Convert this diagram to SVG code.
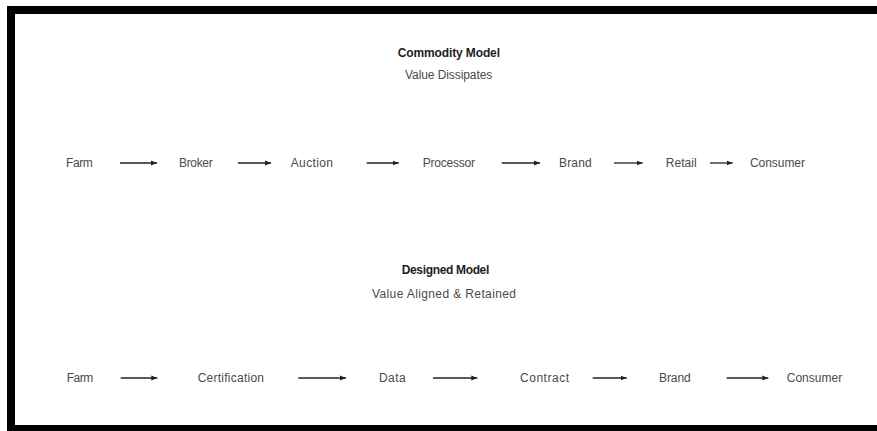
<svg xmlns="http://www.w3.org/2000/svg" width="877" height="431" viewBox="0 0 877 431">
  <style>
    .node { font-family: "Liberation Sans", Arial, sans-serif; font-size: 12px; fill: #4a4a4a; }
    .title { font-family: "Liberation Sans", Arial, sans-serif; font-size: 12px; font-weight: bold; fill: #1e1e1e; }
    .sub { font-family: "Liberation Sans", Arial, sans-serif; font-size: 12px; fill: #4a4a4a; }
    .arrow { stroke: #222; stroke-width: 1.3; fill: none; marker-end: url(#head); }
  </style>
  <defs>
    <marker id="head" markerUnits="userSpaceOnUse" markerWidth="7" markerHeight="6" refX="6" refY="3" orient="auto">
      <path d="M0,0.6 L6,3 L0,5.4 Z" fill="#222"/>
    </marker>
  </defs>

  <rect width="877" height="431" fill="#ffffff"/>
  <!-- frame -->
  <rect x="11" y="10" width="880" height="419" fill="none" stroke="#000" stroke-width="8"/>

  <!-- section headings -->
  <g id="commodity-heading">
    <text class="title" x="397.7" y="57" textLength="102.3">Commodity Model</text>
    <text class="sub" x="405" y="79" textLength="87.3">Value Dissipates</text>
  </g>
  <g id="designed-heading">
    <text class="title" x="401.7" y="274" textLength="87.6">Designed Model</text>
    <text class="sub" x="372" y="298" textLength="144">Value Aligned &amp; Retained</text>
  </g>

  <!-- commodity chain -->
  <g id="c-farm"><text class="node" x="66" y="167" textLength="26.7">Farm</text></g>
  <g id="c-broker"><text class="node" x="179" y="167" textLength="33.7">Broker</text></g>
  <g id="c-auction"><text class="node" x="290.7" y="167" textLength="42.3">Auction</text></g>
  <g id="c-processor"><text class="node" x="422.7" y="167" textLength="52.3">Processor</text></g>
  <g id="c-brand"><text class="node" x="559" y="167" textLength="32.7">Brand</text></g>
  <g id="c-retail"><text class="node" x="665.7" y="167" textLength="31">Retail</text></g>
  <g id="c-consumer"><text class="node" x="750" y="167" textLength="55">Consumer</text></g>

  <!-- designed chain -->
  <g id="d-farm"><text class="node" x="66.7" y="382" textLength="26.6">Farm</text></g>
  <g id="d-certification"><text class="node" x="197.7" y="382" textLength="66.3">Certification</text></g>
  <g id="d-data"><text class="node" x="379" y="382" textLength="26.7">Data</text></g>
  <g id="d-contract"><text class="node" x="520" y="382" textLength="49">Contract</text></g>
  <g id="d-brand"><text class="node" x="659" y="382" textLength="31.7">Brand</text></g>
  <g id="d-consumer"><text class="node" x="786.7" y="382" textLength="55.6">Consumer</text></g>

  <!-- connectors -->
  <g id="connectors">
    <line class="arrow" x1="120" y1="163" x2="157" y2="163"/>
    <line class="arrow" x1="238" y1="163" x2="271" y2="163"/>
    <line class="arrow" x1="366.7" y1="163" x2="398.7" y2="163"/>
    <line class="arrow" x1="501.7" y1="163" x2="540" y2="163"/>
    <line class="arrow" x1="614" y1="163" x2="642.7" y2="163"/>
    <line class="arrow" x1="710" y1="163" x2="732.7" y2="163"/>

    <line class="arrow" x1="120.7" y1="378" x2="157.3" y2="378"/>
    <line class="arrow" x1="298.3" y1="378" x2="346" y2="378"/>
    <line class="arrow" x1="433" y1="378" x2="477.3" y2="378"/>
    <line class="arrow" x1="592.7" y1="378" x2="626.7" y2="378"/>
    <line class="arrow" x1="726.7" y1="378" x2="768.3" y2="378"/>
  </g>
</svg>
